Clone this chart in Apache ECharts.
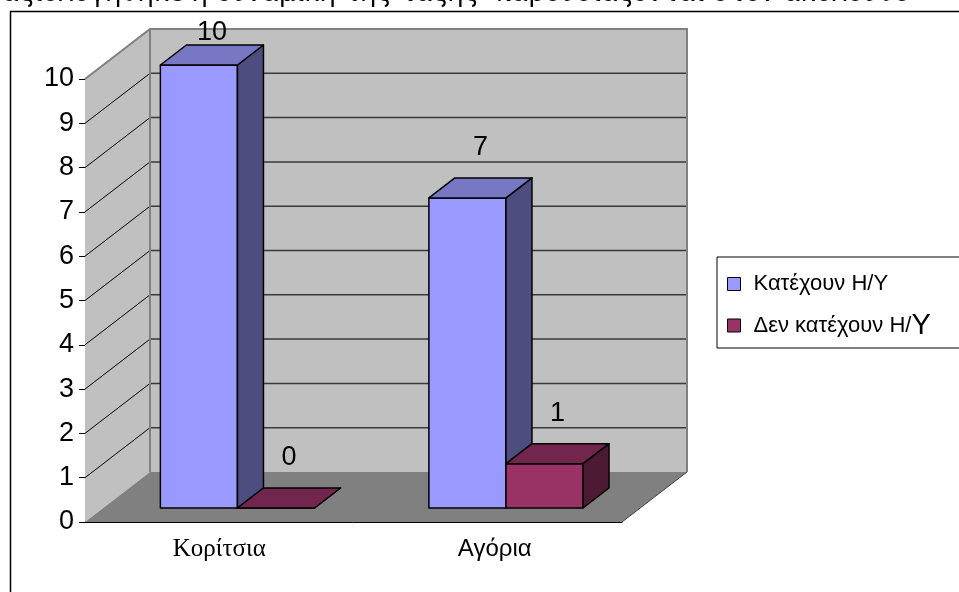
<!DOCTYPE html>
<html>
<head>
<meta charset="utf-8">
<script src="https://cdn.jsdelivr.net/npm/echarts@6/dist/echarts.min.js"></script>
<style>
  html, body { margin: 0; padding: 0; background: #fff; }
  #chart { width: 959px; height: 592px; }
</style>
</head>
<body>
<div id="chart"></div>
<script>
// δεδομένα
const categories = ['Κορίτσια', 'Αγόρια'];
const haveComputer = [10, 7];
const noComputer = [0, 1];
const seriesNames = ['Κατέχουν Η/Υ', 'Δεν κατέχουν Η/Υ'];
const yTicks = [0, 1, 2, 3, 4, 5, 6, 7, 8, 9, 10];

(function () {
    const myChart = echarts.init(document.getElementById('chart'))

    // βάθος της 3D προβολής
    const DX = 65, DY = -50
    const D1 = 0.28, D2 = 0.68
    const yMax = yTicks[yTicks.length - 1]

    const faces = [
        { front: '#9999FF', top: '#7777C4', side: '#4D4D80' },
        { front: '#993366', top: '#73264D', side: '#4D1A33' }
    ]

    function walls(params, api) {
        const band = api.size([1, 0])[0]
        const x0 = api.coord([0, 0])[0] - band / 2
        const x1 = api.coord([categories.length - 1, 0])[0] + band / 2
        const y0 = api.coord([0, 0])[1]
        const yT = api.coord([0, yMax])[1]
        const children = [
            { type: 'polygon', shape: { points: [[x0, yT], [x0 + DX, yT + DY], [x0 + DX, y0 + DY], [x0, y0]] }, style: { fill: '#C0C0C0' } },
            { type: 'polygon', shape: { points: [[x0 + DX, yT + DY], [x1 + DX, yT + DY], [x1 + DX, y0 + DY], [x0 + DX, y0 + DY]] }, style: { fill: '#C0C0C0' } },
            { type: 'polygon', shape: { points: [[x0, y0], [x1, y0], [x1 + DX, y0 + DY], [x0 + DX, y0 + DY]] }, style: { fill: '#808080' } }
        ]
        yTicks.forEach(function (v) {
            if (v === 0 || v === yMax) return
            const y = api.coord([0, v])[1]
            children.push({ type: 'line', shape: { x1: x0 + DX, y1: y + DY, x2: x1 + DX, y2: y + DY }, style: { stroke: '#3a3a3a', lineWidth: 1.5 } })
            children.push({ type: 'line', shape: { x1: x0, y1: y, x2: x0 + DX, y2: y + DY }, style: { stroke: '#000', lineWidth: 1 } })
        })
        // ακμές τοίχων
        children.push({ type: 'polyline', shape: { points: [[x0, yT], [x0 + DX, yT + DY], [x1 + DX, yT + DY], [x1 + DX, y0 + DY]] }, style: { stroke: '#808080', lineWidth: 2, fill: null } })
        children.push({ type: 'line', shape: { x1: x0 + DX, y1: yT + DY, x2: x0 + DX, y2: y0 + DY }, style: { stroke: '#808080', lineWidth: 2 } })
        children.push({ type: 'line', shape: { x1: x1, y1: y0, x2: x1 + DX, y2: y0 + DY }, style: { stroke: '#404040', lineWidth: 1 } })
        return { type: 'group', children: children }
    }

    function bar3d(idx) {
        return function (params, api) {
            const cat = api.value(0)
            const v = api.value(1)
            const base = api.coord([cat, 0])
            const top = api.coord([cat, v])
            const band = api.size([1, 0])[0]
            const bw = band * 0.287
            const xl = base[0] + (idx === 0 ? -bw : 0)
            const xr = xl + bw
            const ax = DX * D1, ay = DY * D1, bx = DX * D2, by = DY * D2
            const yb = base[1], yt = top[1]
            const st = { stroke: '#000', lineWidth: 1.5, lineJoin: 'round' }
            const c = faces[idx]
            return {
                type: 'group',
                children: [
                    { type: 'polygon', shape: { points: [[xl + ax, yt + ay], [xr + ax, yt + ay], [xr + ax, yb + ay], [xl + ax, yb + ay]] }, style: Object.assign({ fill: c.front }, st) },
                    { type: 'polygon', shape: { points: [[xr + ax, yt + ay], [xr + bx, yt + by], [xr + bx, yb + by], [xr + ax, yb + ay]] }, style: Object.assign({ fill: c.side }, st) },
                    { type: 'polygon', shape: { points: [[xl + ax, yt + ay], [xr + ax, yt + ay], [xr + bx, yt + by], [xl + bx, yt + by]] }, style: Object.assign({ fill: c.top }, st) },
                    {
                        type: 'text',
                        style: {
                            text: String(v),
                            x: (xl + xr) / 2 + (ax + bx) / 2,
                            y: Math.max(33, yt + (ay + by) / 2 - 40),
                            align: 'center',
                            verticalAlign: 'middle',
                            fontSize: 27,
                            fontFamily: 'Liberation Sans',
                            fill: '#000'
                        }
                    }
                ]
            }
        }
    }

    const option = {
        animation: false,
        grid: {
            left: 85,
            top: 79,
            width: 537,
            height: 443
        },
        legend: {
            orient: 'vertical',
            left: 717,
            top: 257,
            padding: [16, 60, 8, 10],
            itemGap: 16,
            itemWidth: 13,
            itemHeight: 13,
            icon: 'rect',
            backgroundColor: '#fff',
            borderColor: '#000',
            borderWidth: 1,
            borderRadius: 0,
            itemStyle: {
                borderColor: '#000',
                borderWidth: 1
            },
            data: seriesNames,
            formatter: function (name) {
                if (name === seriesNames[1]) return '{t|Δεν κατέχουν Η/}{big|Υ}'
                return '{t|' + name + '}'
            },
            textStyle: {
                rich: {
                    t: { fontSize: 22, fontFamily: 'Liberation Sans', color: '#000', padding: [0, 0, 0, 8] },
                    big: { fontSize: 29, fontFamily: 'Liberation Sans', color: '#000' }
                }
            }
        },
        xAxis: {
            type: 'category',
            data: categories,
            axisLine: { lineStyle: { color: '#000', width: 1 } },
            axisTick: { length: 6, lineStyle: { color: '#000' } },
            axisLabel: {
                margin: 15,
                formatter: function (val, i) {
                    return i === 0 ? '{s|' + val + '}' : '{a|' + val + '}'
                },
                rich: {
                    s: { fontSize: 25, fontFamily: 'Liberation Serif', color: '#000' },
                    a: { fontSize: 24, fontFamily: 'Liberation Sans', color: '#000', padding: [0, 0, 0, 14] }
                }
            },
            splitLine: { show: false }
        },
        yAxis: {
            type: 'value',
            min: 0,
            max: yMax,
            interval: 1,
            axisLine: { show: true, lineStyle: { color: '#000', width: 1 } },
            axisTick: { show: true, length: 6, lineStyle: { color: '#000' } },
            axisLabel: {
                margin: 11,
                fontSize: 27,
                fontFamily: 'Liberation Sans',
                color: '#000'
            },
            splitLine: { show: false }
        },
        graphic: [
            {
                type: 'rect',
                left: 8,
                top: 9,
                shape: { width: 1100, height: 800 },
                style: { fill: null, stroke: '#000', lineWidth: 1.5 },
                z: -1
            },
            {
                type: 'text',
                x: 2,
                y: 7,
                style: {
                    text: 'αξιολογήθηκε η δυναμική της τάξης  παρουσιάζονται στον ακόλουθο',
                    fontSize: 26,
                    fontFamily: 'DejaVu Sans',
                    fill: '#000',
                    verticalAlign: 'bottom'
                }
            }
        ],
        series: [
            {
                name: 'walls',
                type: 'custom',
                renderItem: walls,
                data: [[0, 0]],
                encode: { x: 0, y: 1 },
                z: 1,
                silent: true
            },
            {
                name: seriesNames[0],
                type: 'custom',
                renderItem: bar3d(0),
                data: categories.map(function (c, i) { return [i, haveComputer[i]] }),
                encode: { x: 0, y: 1 },
                itemStyle: { color: '#9999FF' },
                z: 2
            },
            {
                name: seriesNames[1],
                type: 'custom',
                renderItem: bar3d(1),
                data: categories.map(function (c, i) { return [i, noComputer[i]] }),
                encode: { x: 0, y: 1 },
                itemStyle: { color: '#993366' },
                z: 3
            }
        ]
    };
    myChart.setOption(option);
    window.addEventListener('resize', () => {
        myChart.resize();
    })
})();
</script>
</body>
</html>
